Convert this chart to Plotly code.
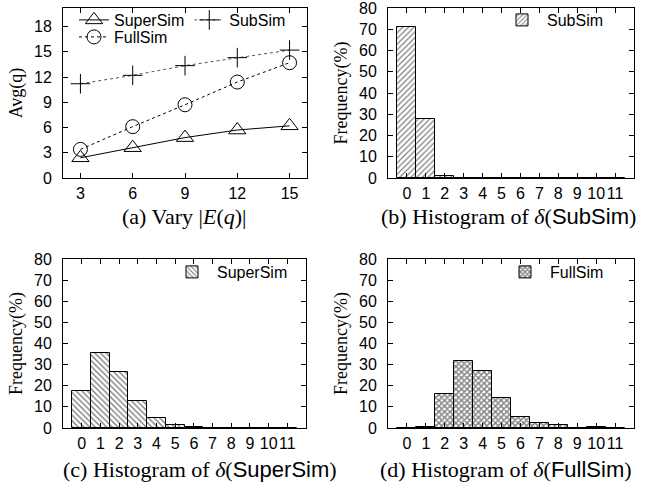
import plotly.graph_objects as go

# ---- data ----
edge_counts = [3, 6, 9, 12, 15]
supersim_avg = [2.4, 3.6, 4.8, 5.7, 6.2]
fullsim_avg = [3.4, 6.1, 8.7, 11.4, 13.7]
subsim_avg = [11.2, 12.2, 13.35, 14.3, 15.2]

delta_bins = list(range(12))
subsim_freq = [71.0, 27.6, 1.1, 0, 0, 0, 0, 0, 0, 0, 0, 0]
supersim_freq = [17.3, 35.7, 26.6, 12.8, 4.9, 1.6, 0.5, 0.1, 0.2, 0.2, 0, 0]
fullsim_freq = [0, 0.5, 16.2, 31.7, 27.1, 14.3, 5.2, 2.4, 1.4, 0.2, 0.4, 0]

W, H = 657, 487
SANS = "Liberation Sans, Arial, sans-serif"
SERIF = "Liberation Serif, Times New Roman, serif"


def px_x(p):
    return p / W


def px_y(p):
    return 1 - p / H


fig = go.Figure()

# ---- (a) line chart ----
fig.add_trace(go.Scatter(
    x=edge_counts, y=supersim_avg, name="SuperSim", mode="lines+markers",
    line=dict(color="black", width=1),
    marker=dict(symbol="triangle-up-open", size=15, color="black", line=dict(width=1)),
    xaxis="x", yaxis="y", legend="legend"))
fig.add_trace(go.Scatter(
    x=edge_counts, y=subsim_avg, name="SubSim", mode="lines+markers",
    line=dict(color="#555555", width=1, dash="dot"),
    marker=dict(symbol="cross-thin-open", size=14, color="black", line=dict(width=1, color="black")),
    xaxis="x", yaxis="y", legend="legend"))
fig.add_trace(go.Scatter(
    x=edge_counts, y=fullsim_avg, name="FullSim", mode="lines+markers",
    line=dict(color="black", width=1, dash="dot"),
    marker=dict(symbol="circle-open", size=14, color="black", line=dict(width=1)),
    xaxis="x", yaxis="y", legend="legend2"))


def hist(vals, name, shape, size, solidity, xa, ya, leg):
    return go.Bar(
        x=delta_bins, y=vals, name=name, width=1,
        marker=dict(color="white", line=dict(color="black", width=1),
                    pattern=dict(shape=shape, fgcolor="black", bgcolor="white",
                                 size=size, solidity=solidity, fillmode="overlay")),
        xaxis=xa, yaxis=ya, legend=leg)


fig.add_trace(hist(subsim_freq, "SubSim", "/", 4, 0.3, "x2", "y2", "legend3"))
fig.add_trace(hist(supersim_freq, "SuperSim", "\\", 4, 0.35, "x3", "y3", "legend4"))
fig.add_trace(hist(fullsim_freq, "FullSim", "x", 4, 0.6, "x4", "y4", "legend5"))

axis_common = dict(
    showline=True, linecolor="black", linewidth=1, mirror="ticks",
    ticks="inside", ticklen=5, tickcolor="black", tickwidth=1,
    showgrid=False, zeroline=False, tickangle=0, automargin=False,
    tickfont=dict(family=SANS, size=16, color="black"),
)

left_dom_a = [px_x(63), px_x(307)]
left_dom = [px_x(63), px_x(306)]
right_dom = [px_x(388), px_x(634)]
top_dom = [px_y(178), px_y(8)]
bot_dom = [px_y(428), px_y(259)]

ytitle_font = dict(family=SERIF, size=18, color="black")
leg_font = dict(family=SANS, size=16, color="black")

fig.update_layout(
    template="none",
    width=W, height=H, margin=dict(l=0, r=0, t=0, b=0, pad=0),
    paper_bgcolor="white", plot_bgcolor="white",
    barmode="overlay", bargap=0,
    font=dict(family=SANS, size=16, color="black"),
    xaxis=dict(axis_common, domain=left_dom_a, anchor="y", range=[2, 16],
               tickvals=edge_counts, ticklabelstandoff=1),
    yaxis=dict(axis_common, domain=top_dom, anchor="x", range=[0, 20.2],
               tickvals=[0, 3, 6, 9, 12, 15, 18], ticklabelstandoff=7,
               title=dict(text="Avg(q)", font=ytitle_font, standoff=6)),
    xaxis2=dict(axis_common, domain=right_dom, anchor="y2", range=[-1, 12],
                tickvals=delta_bins, ticklabelstandoff=1),
    yaxis2=dict(axis_common, domain=top_dom, anchor="x2", range=[0, 80],
                tickvals=list(range(0, 81, 10)), ticklabelstandoff=7,
                title=dict(text="Frequency(%)", font=ytitle_font, standoff=6)),
    xaxis3=dict(axis_common, domain=left_dom, anchor="y3", range=[-1, 12],
                tickvals=delta_bins, ticklabelstandoff=1),
    yaxis3=dict(axis_common, domain=bot_dom, anchor="x3", range=[0, 80],
                tickvals=list(range(0, 81, 10)), ticklabelstandoff=7,
                title=dict(text="Frequency(%)", font=ytitle_font, standoff=6)),
    xaxis4=dict(axis_common, domain=right_dom, anchor="y4", range=[-1, 12],
                tickvals=delta_bins, ticklabelstandoff=1),
    yaxis4=dict(axis_common, domain=bot_dom, anchor="x4", range=[0, 80],
                tickvals=list(range(0, 81, 10)), ticklabelstandoff=7,
                title=dict(text="Frequency(%)", font=ytitle_font, standoff=6)),
    legend=dict(x=px_x(74), y=px_y(3), xanchor="left", yanchor="top",
                orientation="h", bgcolor="rgba(0,0,0,0)",
                font=leg_font, tracegroupgap=0),
    legend2=dict(x=px_x(74), y=px_y(20), xanchor="left", yanchor="top",
                 orientation="h", bgcolor="rgba(0,0,0,0)", font=leg_font),
    legend3=dict(x=px_x(497), y=px_y(3), xanchor="left", yanchor="top",
                 bgcolor="rgba(0,0,0,0)", itemwidth=40, font=leg_font),
    legend4=dict(x=px_x(167), y=px_y(255), xanchor="left", yanchor="top",
                 bgcolor="rgba(0,0,0,0)", itemwidth=40, font=leg_font),
    legend5=dict(x=px_x(500), y=px_y(255), xanchor="left", yanchor="top",
                 bgcolor="rgba(0,0,0,0)", itemwidth=40, font=leg_font),
)

cap_font = dict(family=SERIF, size=22, color="black")
captions = [
    ("(a) Vary |<i>E</i>(<i>q</i>)|", 184, 216),
    ("(b) Histogram of <i>δ</i>(<span style=\"font-family:Liberation Sans\">SubSim</span>)", 508, 216),
    ("(c) Histogram of <i>δ</i>(<span style=\"font-family:Liberation Sans\">SuperSim</span>)", 200, 469),
    ("(d) Histogram of <i>δ</i>(<span style=\"font-family:Liberation Sans\">FullSim</span>)", 506, 469),
]
for text, cx, cy in captions:
    fig.add_annotation(text=text, x=px_x(cx), y=px_y(cy), xref="paper", yref="paper",
                       showarrow=False, font=cap_font, xanchor="center", yanchor="middle")

# remove the browser's default 8px body margin so the figure fills the window
fig.write_html("out.html", config={"displayModeBar": False},
               post_script="document.body.style.margin='0px';")
